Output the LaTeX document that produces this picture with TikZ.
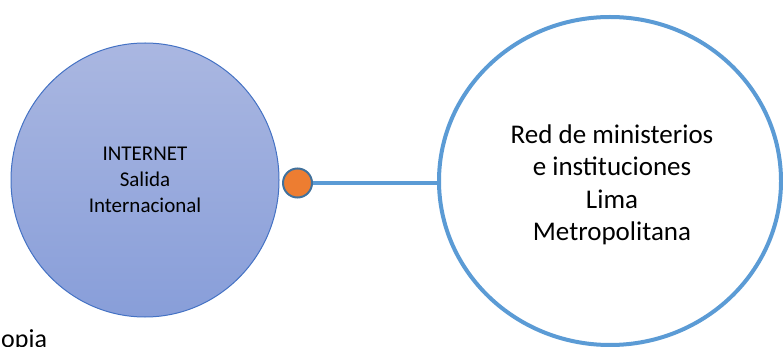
\documentclass[tikz,border=0pt]{standalone}
\usepackage{fontspec}
\setmainfont{Carlito}
\usepackage{xcolor}
\usepackage{tikz}
\usetikzlibrary{shapes.geometric}

\definecolor{netTop}{HTML}{AAB7E1}
\definecolor{netBottom}{HTML}{889ED9}
\definecolor{netLine}{HTML}{4472C4}
\definecolor{linkBlue}{HTML}{5B9BD5}
\definecolor{dotOrange}{HTML}{ED7D31}
\definecolor{dotLine}{HTML}{41719C}

\begin{document}
\begin{tikzpicture}[x=1pt,y=-1pt]
          \useasboundingbox (0,0) rectangle (783,347);
          \clip (0,0) rectangle (783,347);
          \node[draw=netLine, ellipse, line width=1pt, top color=netTop, bottom color=netBottom, minimum width=268, minimum height=274, inner sep=0, align=center, font=\fontsize{21}{26}\selectfont] (internet) at (145,180) {INTERNET\\Salida\\Internacional};
          \node[draw=linkBlue, ellipse, line width=4pt, fill=white, minimum width=342, minimum height=328, inner sep=0] (red) at (610,181) {};
          \node[align=center, inner sep=0, font=\fontsize{27}{32.5}\selectfont] (redtxt) at (612,185) {Red de ministerios\\e instituciones\\Lima\\Metropolitana};
          \node[draw=dotLine, circle, line width=2pt, fill=dotOrange, minimum size=29, inner sep=0] (salida) at (297.5,183) {};
          \draw[linkBlue, line width=4pt] (salida.east) -- (salida.east -| red.west);
          \node[anchor=base west, inner sep=0, font=\fontsize{26}{30}\selectfont] (pie) at (1,347) {opia};
        \end{tikzpicture}
\end{document}
